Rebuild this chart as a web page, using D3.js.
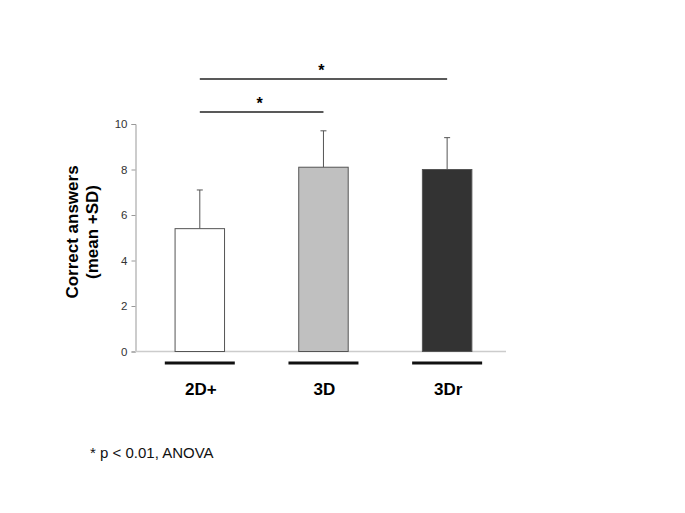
<!DOCTYPE html>
<html>
<head>
<meta charset="utf-8">
<script src="https://cdn.jsdelivr.net/npm/d3@7"></script>
<style>
  body { margin: 0; background: white; }
  text { font-family: "Liberation Sans", Arial, sans-serif; }
</style>
</head>
<body>
<div id="vis"></div>
<script>
// data
const groups = ["2D+", "3D", "3Dr"];
const means = [5.4, 8.1, 8.0];
const sds = [1.7, 1.6, 1.4];
const fills = ["#ffffff", "#c0c0c0", "#333333"];
const yTicks = [0, 2, 4, 6, 8, 10];
const sigPairs = [["2D+", "3Dr"], ["2D+", "3D"]];

let width = 685;
let height = 513;
let margin = { top: 124, bottom: 161, left: 135, right: 179 };

let svg = d3.select("#vis")
  .append("svg")
  .attr("width", width)
  .attr("height", height)
  .style("background", "white");

// scales
let yScale = d3.scaleLinear()
  .domain([0, 10])
  .range([height - margin.bottom - 0.5, margin.top]);

let xScale = d3.scaleBand()
  .domain(groups)
  .range([margin.left, width - margin.right])
  .paddingInner(0.6)
  .paddingOuter(0.3)
  .align(0.54);

// y axis
let yAxis = svg.append("g")
  .attr("transform", `translate(${margin.left + 0.5}, 0)`)
  .call(d3.axisLeft(yScale).tickValues(yTicks).tickSize(4).tickPadding(4));
yAxis.select(".domain").attr("stroke", "#999");
yAxis.selectAll(".tick line").attr("stroke", "#999");
yAxis.selectAll(".tick text")
  .attr("fill", "#333")
  .style("font-size", "11.5px");

// x baseline
svg.append("line")
  .attr("x1", margin.left)
  .attr("x2", width - margin.right)
  .attr("y1", yScale(0))
  .attr("y2", yScale(0))
  .attr("stroke", "#cccccc")
  .attr("stroke-width", 1.5);

// error bars (upper only)
let bw = xScale.bandwidth();
groups.forEach(function(g, i) {
  let cx = xScale(g) + bw / 2;
  svg.append("line")
    .attr("x1", cx).attr("x2", cx)
    .attr("y1", yScale(means[i]))
    .attr("y2", yScale(means[i] + sds[i]))
    .attr("stroke", "#555")
    .attr("stroke-width", 1);
  svg.append("line")
    .attr("x1", cx - 3).attr("x2", cx + 3)
    .attr("y1", yScale(means[i] + sds[i]))
    .attr("y2", yScale(means[i] + sds[i]))
    .attr("stroke", "#555")
    .attr("stroke-width", 1);
});

// bars
svg.selectAll("rect.bar")
  .data(groups)
  .enter()
  .append("rect")
  .attr("class", "bar")
  .attr("x", d => xScale(d))
  .attr("y", (d, i) => yScale(means[i]))
  .attr("width", bw)
  .attr("height", (d, i) => yScale(0) - yScale(means[i]))
  .attr("fill", (d, i) => fills[i])
  .attr("stroke", "#555")
  .attr("stroke-width", 1);

// group underline + labels
groups.forEach(function(g) {
  let cx = xScale(g) + bw / 2;
  svg.append("line")
    .attr("x1", cx - 35).attr("x2", cx + 35)
    .attr("y1", 363).attr("y2", 363)
    .attr("stroke", "#111")
    .attr("stroke-width", 3);
  svg.append("text")
    .attr("x", cx + 1)
    .attr("y", 395)
    .attr("text-anchor", "middle")
    .style("font-size", "17px")
    .style("font-weight", "bold")
    .text(g);
});

// significance lines
let sigY = [79, 112];
sigPairs.forEach(function(p, i) {
  let x1 = xScale(p[0]) + bw / 2;
  let x2 = xScale(p[1]) + bw / 2;
  svg.append("line")
    .attr("x1", x1).attr("x2", x2)
    .attr("y1", sigY[i]).attr("y2", sigY[i])
    .attr("stroke", "#222")
    .attr("stroke-width", 1.5);
  svg.append("text")
    .attr("x", (x1 + x2) / 2 - 2)
    .attr("y", sigY[i] - 3)
    .attr("text-anchor", "middle")
    .style("font-size", "16px")
    .style("font-weight", "bold")
    .text("*");
});

// y label
svg.append("text")
  .attr("transform", "translate(78, 232) rotate(-90)")
  .attr("text-anchor", "middle")
  .style("font-size", "17px")
  .style("font-weight", "bold")
  .text("Correct answers");
svg.append("text")
  .attr("transform", "translate(98, 232) rotate(-90)")
  .attr("text-anchor", "middle")
  .style("font-size", "17px")
  .style("font-weight", "bold")
  .text("(mean +SD)");

// footnote
svg.append("text")
  .attr("x", 90)
  .attr("y", 458)
  .style("font-size", "15px")
  .attr("fill", "#111")
  .text("* p < 0.01, ANOVA");
</script>
</body>
</html>
